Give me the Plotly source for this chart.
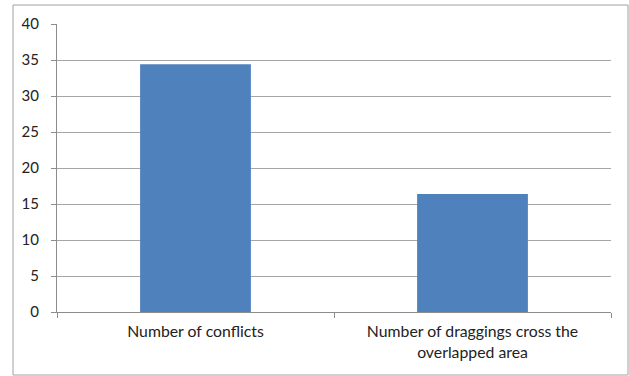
import plotly.graph_objects as go

categories = ["Number of conflicts", "Number of draggings cross the<br>overlapped area"]
values = [34.4, 16.4]
y_ticks = [0, 5, 10, 15, 20, 25, 30, 35, 40]

W, H = 629, 376
L, R, T, B = 57, 18, 24, 64
pw, ph = W - L - R, H - T - B

fig = go.Figure(go.Bar(x=categories, y=values, marker=dict(color="#4F81BD", line=dict(width=0)),
                       width=0.4))
fig.update_layout(
    width=W, height=H, margin=dict(l=L, r=R, t=T, b=B),
    paper_bgcolor="white", plot_bgcolor="white", showlegend=False,
    font=dict(family="Lato, Open Sans, DejaVu Sans, sans-serif", size=14, color="#222"),
    bargap=0.6,
)
fig.update_xaxes(showline=True, linecolor="#8c8c8c", linewidth=1, ticks="outside", tickson="boundaries",
                 ticklen=5, tickcolor="#8c8c8c", showgrid=False, ticklabelstandoff=5,
                 tickfont=dict(size=15.8, color="#222"))
fig.update_yaxes(range=[0, 40], tickvals=y_ticks, showline=True, linecolor="#8c8c8c", linewidth=1,
                 ticks="outside", ticklen=5, tickcolor="#8c8c8c", showgrid=True, gridcolor="#a6a6a6",
                 gridwidth=1, zeroline=False, ticklabelstandoff=9, tickfont=dict(size=15, color="#222"))
fig.add_shape(type="rect", xref="paper", yref="paper",
              x0=(13 - L) / pw, x1=(628 - L) / pw, y0=-(375 - (T + ph)) / ph, y1=1 + (T - 5) / ph,
              line=dict(color="#a0a0a0", width=1), fillcolor="rgba(0,0,0,0)", layer="below")
fig.write_html("out.html")
